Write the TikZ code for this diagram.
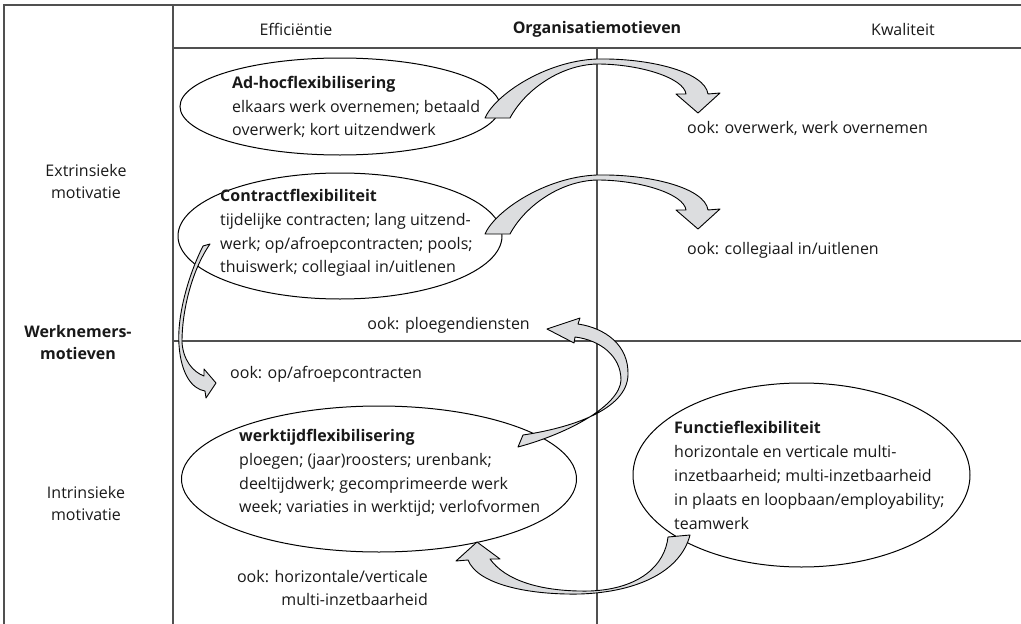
\documentclass[tikz,border=0pt]{standalone}
\usepackage{fontspec}
\setmainfont{Open Sans}
\usetikzlibrary{shapes.geometric}
\definecolor{inkgray}{RGB}{25,25,25}
\definecolor{rulegray}{RGB}{80,80,80}
\definecolor{ribbongray}{RGB}{220,221,223}
\newcommand{\bodyfont}{\fontsize{16}{23.8}\selectfont}
\tikzset{
  rule/.style={draw=rulegray, line width=1.4pt},
  oval/.style={ellipse, draw=black, line width=1pt, inner sep=0pt},
  ovaltext/.style={anchor=west, align=left, inner sep=0pt, font=\bodyfont, text=inkgray},
  ooktext/.style={inner sep=0pt, font=\bodyfont, text=inkgray},
  sidelabel/.style={align=center, inner sep=0pt, font=\fontsize{16}{22}\selectfont, text=inkgray},
  headlabel/.style={inner sep=0pt, font=\bodyfont, text=inkgray},
  ribbon/.style={draw=black, fill=ribbongray, line width=0.9pt, line join=round},
}

\begin{document}
\begin{tikzpicture}[x=1pt, y=-1pt]
\useasboundingbox (0,0) rectangle (1021,624);
% table grid
\draw[rule] (4,624) -- (4,5) -- (1021,5);
\draw[rule] (173,5) -- (173,624);
\draw[rule] (173,48) -- (1021,48);
\draw[rule] (597,48) -- (597,624);
\draw[rule] (173,341) -- (1021,341);

% column and row heads
\node[headlabel] (effic) at (296,29) {Efficiëntie};
\node[headlabel, font=\bodyfont\bfseries] (orgmot) at (597,29) {Organisatiemotieven};
\node[headlabel] (kwal) at (903,29) {Kwaliteit};
\node[sidelabel] (extr) at (86,181) {Extrinsieke\\motivatie};
\node[sidelabel, font=\fontsize{16}{22}\selectfont\bfseries] (werkn) at (78,342) {Werknemers-\\motieven};
\node[sidelabel] (intr) at (86,503) {Intrinsieke\\motivatie};

% ellipses
\node[oval, minimum width=320pt, minimum height=97pt] (adhoc) at (340,106.5) {};
\node[oval, minimum width=324pt, minimum height=126pt] (contract) at (340,236) {};
\node[oval, minimum width=395pt, minimum height=146pt] (werktijd) at (379,479) {};
\node[oval, minimum width=337pt, minimum height=184pt] (functie) at (801.5,475) {};

\node[ovaltext] (adhoctxt) at (232,107) {\textbf{Ad-hocflexibilisering}\\elkaars werk overnemen; betaald\\overwerk; kort uitzendwerk};
\node[ovaltext] (contracttxt) at (220,233) {\textbf{Contractflexibiliteit}\\tijdelijke contracten; lang uitzend-\\werk; op/afroepcontracten; pools;\\thuiswerk; collegiaal in/uitlenen};
\node[ovaltext] (werktijdtxt) at (239,473) {\textbf{werktijdflexibilisering}\\ploegen; (jaar)roosters; urenbank;\\deeltijdwerk; gecomprimeerde werk\\week; variaties in werktijd; verlofvormen};
\node[ovaltext] (functietxt) at (674,475.5) {\textbf{Functieflexibiliteit}\\horizontale en verticale multi-\\inzetbaarheid; multi-inzetbaarheid\\in plaats en loopbaan/employability;\\teamwerk};

% "ook" notes
\node[ooktext, anchor=west] (ookover) at (687,128) {ook: overwerk, werk overnemen};
\node[ooktext, anchor=west] (ookcoll) at (687,250) {ook: collegiaal in/uitlenen};
\node[ooktext, anchor=west] (ookafroep) at (230,374) {ook: op/afroepcontracten};
\node[ooktext, anchor=east] (ookploeg) at (530,325) {ook: ploegendiensten};
\node[ooktext, anchor=east, align=right, font=\fontsize{16}{22.5}\selectfont] (ookmulti) at (428,588) {ook: horizontale/verticale\\multi-inzetbaarheid};

% ribbons towards Kwaliteit
\foreach \dy in {0,116}
  \draw[ribbon, shift={(0,\dy)}] (485,118) .. controls (495,95) and (545,61) .. (597,59)
    .. controls (650,58) and (705,72) .. (708,94) -- (720,93) -- (698,113) -- (676,94) -- (686,94)
    .. controls (684,78) and (640,64) .. (597,64) .. controls (560,65) and (525,90) .. (510,118) -- cycle;

% contract -> op/afroep
\draw[ribbon] (203,246) .. controls (186,280) and (177,320) .. (179,345)
  .. controls (181,374) and (192,389) .. (205,391) -- (206,398) -- (216,383) -- (204,369) -- (204,376)
  .. controls (193,372) and (183,360) .. (182,342) .. controls (182,310) and (192,270) .. (210,244) -- cycle;

% werktijd -> ploegendiensten
\draw[ribbon] (523,435) .. controls (570,428) and (627,410) .. (628,375)
  .. controls (629,345) and (605,328) .. (578,324) -- (580,318) -- (547,329) -- (574,343) -- (575,337)
  .. controls (600,340) and (621,356) .. (621,380) .. controls (620,405) and (570,433) .. (518,447) -- cycle;

% functie -> werktijd
\draw[ribbon] (690,535) .. controls (681,570) and (640,592) .. (580,594)
  .. controls (530,595) and (478,585) .. (468,560) -- (456,561) -- (477,542) -- (500,559) -- (490,559)
  .. controls (505,580) and (540,592) .. (590,591) .. controls (640,589) and (665,565) .. (668,537) -- cycle;
\end{tikzpicture}
\end{document}
